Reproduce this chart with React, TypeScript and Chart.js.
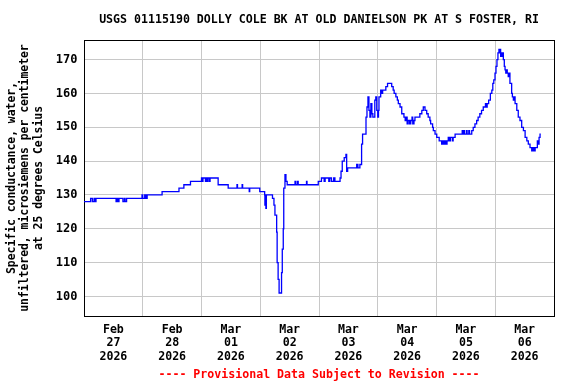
import React, { useEffect, useRef } from 'react';
import { Chart, registerables } from 'chart.js';

Chart.register(...registerables);

const TITLE = 'USGS 01115190 DOLLY COLE BK AT OLD DANIELSON PK AT S FOSTER, RI';
const FOOTER = '---- Provisional Data Subject to Revision ----';
const Y_TITLE = [
  'Specific conductance, water,',
  'unfiltered, microsiemens per centimeter',
  'at 25 degrees Celsius',
];

// Day labels (placed at noon of each day); x values are hours since Feb 27 2026 00:00
const DAY_LABELS = [
  ['Feb', '27', '2026'],
  ['Feb', '28', '2026'],
  ['Mar', '01', '2026'],
  ['Mar', '02', '2026'],
  ['Mar', '03', '2026'],
  ['Mar', '04', '2026'],
  ['Mar', '05', '2026'],
  ['Mar', '06', '2026'],
];
const Y_TICKS = [100, 110, 120, 130, 140, 150, 160, 170];
const Y_MIN = 94.2;
const Y_MAX = 175.8;

// Change points: hour offset and specific conductance (uS/cm)
const HOURS = [
  0, 2.7, 3.4, 4.1, 4.5, 4.9, 13.1, 13.5, 14.0, 14.3, 15.9, 16.5, 16.8, 17.4,
  23.7, 24.0, 24.8, 25.0, 25.3, 25.5, 25.8, 31.9, 38.8, 40.8, 43.5,
  48.0, 48.3, 48.6, 49.6, 50.0, 50.4, 50.7, 51.3, 51.5, 54.8, 58.9,
  62.5, 62.7, 64.6, 64.8, 67.5, 67.7, 71.8, 73.8, 73.9, 74.1, 74.3, 74.5,
  77.0, 77.6, 78.0, 78.7, 78.9, 79.3, 79.7, 80.7, 81.0, 81.4, 81.6, 82.1,
  82.5, 83.0, 86.2, 86.5, 87.2, 87.5, 90.9, 91.1, 95.7, 97.0, 98.1, 98.5,
  100.0, 100.4, 101.1, 102.0, 102.5, 104.6, 105.0, 105.5, 106.3, 107.0,
  107.3, 107.7, 111.4, 111.9, 112.7, 113.4, 113.8, 115.2, 115.6, 116.0,
  116.4, 116.8, 117.2, 117.6, 118.0, 118.8, 119.2, 119.6, 120.0, 120.3,
  120.5, 121.2, 121.6, 122.0, 123.3, 124.0, 125.7, 126.3, 126.7, 127.4,
  128.0, 128.4, 129.1, 129.8, 130.7, 131.2, 131.6, 132.0, 132.4, 133.0,
  133.5, 134.0, 134.3, 134.8, 135.2, 137.2, 138.0, 138.6, 139.3, 140.0,
  140.6, 141.3, 141.6, 142.4, 142.7, 143.4, 144.1, 145.1, 146.1, 146.5,
  147.0, 147.4, 147.9, 148.3, 148.8, 149.3, 149.7, 150.5, 150.8, 151.6,
  154.5, 154.8, 155.1, 155.4, 156.2, 156.5, 157.2, 157.5, 158.4, 159.0,
  159.7, 160.4, 161.0, 161.7, 162.4, 163.1, 164.0, 164.3, 164.7, 165.3,
  166.0, 166.6, 167.0, 167.4, 167.9, 168.3, 168.7, 169.1, 169.5, 169.8,
  170.0, 170.2, 170.5, 170.8, 171.1, 171.3, 171.7, 172.0, 172.3, 172.6,
  172.9, 173.3, 173.6, 174.0, 174.7, 175.0, 175.4, 175.7, 176.1, 176.8,
  177.4, 178.1, 178.8, 179.5, 180.2, 180.9, 181.5, 182.2, 182.9, 183.2,
  183.5, 183.8, 184.0, 184.3, 185.2, 185.6, 185.9, 186.3, 186.6,
];
const VALUES = [
  128, 129, 128, 129, 128, 129, 128, 129, 128, 129, 128, 129, 128, 129,
  130, 129, 130, 129, 130, 129, 130, 131, 132, 133, 134,
  135, 134, 135, 134, 135, 134, 135, 134, 135, 133, 132,
  133, 132, 133, 132, 131, 132, 131, 130, 127, 130, 126, 130,
  129, 127, 124, 119, 110, 105, 101, 107, 114, 120, 132, 136,
  134, 133, 134, 133, 134, 133, 134, 133, 134, 135, 134, 135,
  134, 135, 134, 135, 134, 135, 137, 140, 141, 142,
  137, 138, 139, 138, 139, 145, 148, 153, 156, 159,
  155, 153, 157, 154, 153, 158, 159, 155, 153, 155,
  159, 161, 160, 161, 162, 163, 162, 161, 160, 159,
  158, 157, 156, 154, 153, 152, 153, 151, 152, 151,
  152, 153, 151, 152, 153, 154, 155, 156, 155, 154,
  153, 152, 151, 150, 149, 148, 147, 146, 145, 146,
  145, 146, 145, 146, 147, 146, 147, 146, 147, 148,
  149, 148, 149, 148, 149, 148, 149, 148, 149, 150,
  151, 152, 153, 154, 155, 156, 157, 156, 157, 158,
  160, 161, 163, 164, 166, 168, 170, 172, 173, 172,
  173, 171, 172, 171, 172, 170, 168, 167, 166, 167,
  166, 165, 166, 163, 160, 159, 158, 159, 157, 155,
  153, 152, 150, 149, 147, 146, 145, 144, 143, 144,
  143, 144, 143, 144, 146, 145, 147, 148, 148,
];

const FONT_FAMILY = "'DejaVu Sans Mono', 'Liberation Mono', monospace";
const GRID_COLOR = '#c8c8c8';

export default function App() {
  const canvasRef = useRef<HTMLCanvasElement | null>(null);

  useEffect(() => {
    const canvas = canvasRef.current;
    if (!canvas) return;
    const xTicks: number[] = [];
    for (let d = 0; d <= DAY_LABELS.length; d++) {
      xTicks.push(d * 24);
      if (d < DAY_LABELS.length) xTicks.push(d * 24 + 12);
    }
    const xMax = DAY_LABELS.length * 24;

    const chart = new Chart(canvas, {
      type: 'line',
      data: {
        datasets: [
          {
            data: HOURS.map((h, i) => ({ x: h, y: VALUES[i] })),
            borderColor: '#0000ff',
            borderWidth: 1.3,
            pointRadius: 0,
            stepped: true,
            fill: false,
            xAxisID: 'x',
            yAxisID: 'y',
          },
        ],
      },
      options: {
        animation: false,
        responsive: false,
        maintainAspectRatio: false,
        layout: { padding: { left: 0, right: 22, top: 0, bottom: 0 } },
        plugins: {
          legend: { display: false },
          tooltip: { enabled: false },
          title: {
            display: true,
            text: TITLE,
            fullSize: false,
            color: '#000',
            font: { family: FONT_FAMILY, size: 11.6, weight: 'bold', lineHeight: 1.2 },
            padding: { top: 13, bottom: 13.1 },
          },
          subtitle: {
            display: true,
            text: FOOTER,
            position: 'bottom',
            fullSize: false,
            color: '#ff0000',
            font: { family: FONT_FAMILY, size: 11.6, weight: 'bold', lineHeight: 1.2 },
            padding: { top: 0, bottom: 2 },
          },
        },
        scales: {
          x: {
            type: 'linear',
            position: 'bottom',
            min: 0,
            max: xMax,
            afterBuildTicks: (scale: any) => {
              scale.ticks = xTicks.map((v) => ({ value: v }));
            },
            afterFit: (scale: any) => {
              scale.height = 384 - 316 - (11.6 * 1.2 + 2);
            },
            grid: {
              drawTicks: false,
              color: (ctx: any) =>
                ctx.tick && ctx.tick.value % 24 === 0 ? GRID_COLOR : 'rgba(0,0,0,0)',
              lineWidth: 1,
            },
            border: { display: true, color: '#000', width: 1 },
            ticks: {
              autoSkip: false,
              maxRotation: 0,
              minRotation: 0,
              includeBounds: false,
              padding: 7.4,
              color: '#000',
              font: { family: FONT_FAMILY, size: 11.6, weight: 'bold', lineHeight: '13.3px' },
              callback: (value: any) => {
                const v = Number(value);
                if (v % 24 === 12) return DAY_LABELS[(v - 12) / 24];
                return '';
              },
            },
          },
          y: {
            type: 'linear',
            position: 'left',
            min: Y_MIN,
            max: Y_MAX,
            afterBuildTicks: (scale: any) => {
              scale.ticks = Y_TICKS.map((v) => ({ value: v }));
            },
            afterFit: (scale: any) => {
              scale.width = 84;
            },
            grid: { drawTicks: false, color: GRID_COLOR, lineWidth: 1 },
            border: { display: true, color: '#000', width: 1 },
            ticks: {
              includeBounds: false,
              padding: 6.5,
              color: '#000',
              font: { family: FONT_FAMILY, size: 12, weight: 'bold' },
            },
            title: {
              display: true,
              text: Y_TITLE,
              color: '#000',
              font: { family: FONT_FAMILY, size: 11.4, weight: 'bold', lineHeight: '13.5px' },
              padding: { top: 5, bottom: 0 },
            },
          },
          xTop: {
            type: 'linear',
            position: 'top',
            grid: { display: false, drawTicks: false },
            ticks: { display: false },
            border: { display: true, color: '#000', width: 1 },
          },
          yRight: {
            type: 'linear',
            position: 'right',
            grid: { display: false, drawTicks: false },
            ticks: { display: false },
            border: { display: true, color: '#000', width: 1 },
          },
        },
      },
    } as any);

    return () => {
      chart.destroy();
    };
  }, []);

  return (
    <div style={{ position: 'fixed', left: 0, top: 0, width: 576, height: 384, background: '#fff' }}>
      <canvas ref={canvasRef} width={576} height={384} style={{ display: 'block' }} />
    </div>
  );
}
